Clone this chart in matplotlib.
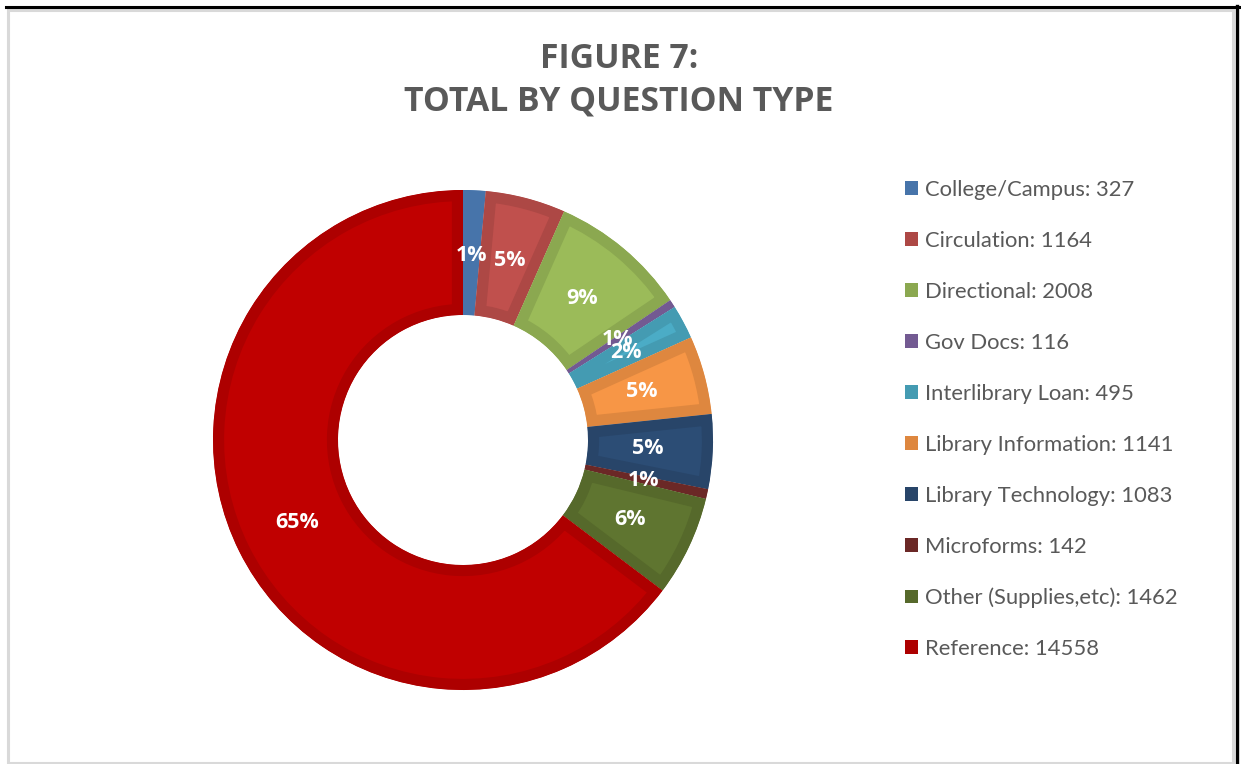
import matplotlib.pyplot as plt
import matplotlib.colors as mcolors
from matplotlib.patches import Patch, Rectangle
from matplotlib.lines import Line2D

# Question types and their totals
categories = ["College/Campus", "Circulation", "Directional", "Gov Docs",
              "Interlibrary Loan", "Library Information", "Library Technology",
              "Microforms", "Other (Supplies,etc)", "Reference"]
counts = [327, 1164, 2008, 116, 495, 1141, 1083, 142, 1462, 14558]
fill_colors = ["#4F81BD", "#C0504D", "#9BBB59", "#8064A2", "#4BACC6",
               "#F79646", "#2C4D75", "#772C2A", "#5F7530", "#C00000"]

TEXT_GREY = "#595959"
W, H = 1241, 764


def darker(c, f=0.9):
    r, g, b = mcolors.to_rgb(c)
    return (r * f, g * f, b * f)


edge_colors = [darker(c) for c in fill_colors]

fig = plt.figure(figsize=(W / 100, H / 100), dpi=100)
fig.patch.set_facecolor("white")

# outer frame of the chart area
fig.add_artist(Rectangle((7.5 / W, 1 - 762.5 / H), (1233 - 7.5) / W, (762.5 - 9.5) / H,
                         transform=fig.transFigure, fill=False,
                         edgecolor="#D9D9D9", linewidth=2.2))
fig.add_artist(Line2D([6 / W, 1238.5 / W], [1 - 6.8 / H, 1 - 6.8 / H],
                      transform=fig.transFigure, color="black", linewidth=2.2))
fig.add_artist(Line2D([1237 / W, 1237 / W], [1 - 5.5 / H, 0],
                      transform=fig.transFigure, color="black", linewidth=2.4))

# title
fig.text(619 / W, 1 - 59 / H, "FIGURE 7:", ha="center", va="center",
         fontsize=24.3, fontweight="bold", color=TEXT_GREY, family="Open Sans")
fig.text(619 / W, 1 - 102 / H, "TOTAL BY QUESTION TYPE", ha="center", va="center",
         fontsize=24.3, fontweight="bold", color=TEXT_GREY, family="Open Sans")

# doughnut
cx, cy, half = 463, 440, 260
ax = fig.add_axes([(cx - half) / W, (H - cy - half) / H, 2 * half / W, 2 * half / H])
wedges, texts, autotexts = ax.pie(
    counts, colors=fill_colors, startangle=90, counterclock=False,
    autopct="%1.0f%%", pctdistance=0.74,
    wedgeprops=dict(width=0.5, linewidth=16, joinstyle="miter"),
    textprops=dict(color="white", fontsize=15.5, fontweight="bold",
                   family="Open Sans"))
for w, ec in zip(wedges, edge_colors):
    w.set_edgecolor(ec)
    # keep the thick outline inside its own segment
    w.set_clip_on(True)
    w.set_clip_path(w)
ax.set_xlim(-1.04, 1.04)
ax.set_ylim(-1.04, 1.04)
ax.set_aspect("equal")
ax.axis("off")

# legend
handles = [Patch(facecolor=ec, edgecolor="none") for ec in edge_colors]
labels = [f"{c}: {n}" for c, n in zip(categories, counts)]
leg = fig.legend(handles, labels, loc="upper left",
                 bbox_to_anchor=(905 / W, 1 - 180 / H), frameon=False,
                 prop=dict(family="Lato", size=15.8), labelcolor=TEXT_GREY,
                 labelspacing=1.41, handlelength=0.58, handleheight=0.58,
                 handletextpad=0.32, borderpad=0, borderaxespad=0)

fig.savefig("out.png", dpi=100, facecolor="white")
